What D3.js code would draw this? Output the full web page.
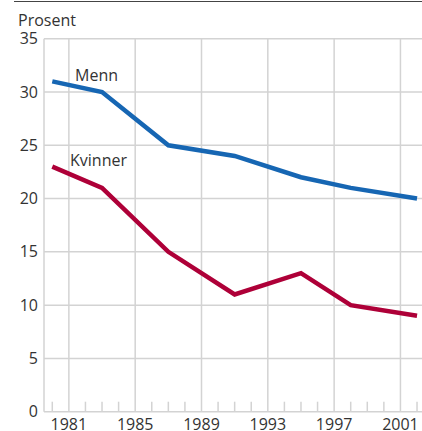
<!doctype html>
<html>
<head>
    <style>
        body { margin: 0; background: #fff; }
        text {
            font-family: 'Open Sans', 'Noto Sans', sans-serif;
            fill: #333;
        }
    </style>
    <script src="https://d3js.org/d3.v7.min.js"></script>
</head>
<body>
    <script>
        /*** Data ***/
        var years   = [1980, 1983, 1987, 1991, 1995, 1998, 2002];
        var menn    = [31, 30, 25, 24, 22, 21, 20];
        var kvinner = [23, 21, 15, 11, 13, 10, 9];
        var yTicks  = [0, 5, 10, 15, 20, 25, 30, 35];
        var xTicks  = [1981, 1985, 1989, 1993, 1997, 2001];

        var svg = d3.select("body").append("svg").attr("width", 422).attr("height", 431);

        var x = d3.scaleLinear().domain([1979.5, 2002.3]).range([44, 422]);
        var y = d3.scaleLinear().domain([0, 35]).range([411.7, 38.7]);

        // top rule
        svg.append("line")
            .attr("x1", 14).attr("x2", 422)
            .attr("y1", 1.5).attr("y2", 1.5)
            .attr("stroke", "#444").attr("stroke-width", 1.2);

        svg.append("text")
            .attr("x", 18).attr("y", 26)
            .style("font-size", "16px")
            .text("Prosent");

        // horizontal grid
        svg.selectAll(".hgrid").data(yTicks.filter(function(d) { return d > 0; }))
            .enter().append("line")
            .attr("x1", x(1979.5)).attr("x2", 422)
            .attr("y1", function(d) { return y(d); })
            .attr("y2", function(d) { return y(d); })
            .attr("stroke", "#d3d3d3").attr("stroke-width", 1.5);

        // vertical grid
        svg.selectAll(".vgrid").data(xTicks)
            .enter().append("line")
            .attr("x1", function(d) { return x(d); })
            .attr("x2", function(d) { return x(d); })
            .attr("y1", y(35)).attr("y2", y(0))
            .attr("stroke", "#d3d3d3").attr("stroke-width", 1.5);

        // minor ticks every year
        var minor = d3.range(1980, 2003).filter(function(d) { return xTicks.indexOf(d) < 0; });
        svg.selectAll(".minor").data(minor)
            .enter().append("line")
            .attr("x1", function(d) { return x(d); })
            .attr("x2", function(d) { return x(d); })
            .attr("y1", y(0) - 10).attr("y2", y(0))
            .attr("stroke", "#d3d3d3").attr("stroke-width", 1.5);

        // axes lines
        svg.append("line")
            .attr("x1", x(1979.5)).attr("x2", x(1979.5))
            .attr("y1", y(35)).attr("y2", y(0))
            .attr("stroke", "#d3d3d3").attr("stroke-width", 1.5);
        svg.append("line")
            .attr("x1", x(1979.5)).attr("x2", 422)
            .attr("y1", y(0)).attr("y2", y(0))
            .attr("stroke", "#d3d3d3").attr("stroke-width", 1.5);

        // y labels
        svg.selectAll(".ylab").data(yTicks)
            .enter().append("text")
            .attr("x", 38)
            .attr("y", function(d) { return y(d); })
            .attr("dy", "0.35em")
            .attr("text-anchor", "end")
            .style("font-size", "16px")
            .text(function(d) { return d; });

        // x labels
        svg.selectAll(".xlab").data(xTicks)
            .enter().append("text")
            .attr("x", function(d) { return x(d); })
            .attr("y", 430)
            .attr("text-anchor", "middle")
            .style("font-size", "16px")
            .text(function(d) { return d; });

        // lines
        var line = d3.line()
            .x(function(d, i) { return x(years[i]); })
            .y(function(d) { return y(d); });

        svg.append("path").datum(kvinner)
            .attr("d", line)
            .attr("fill", "none")
            .attr("stroke", "#ae0038")
            .attr("stroke-width", 4.5);

        svg.append("path").datum(menn)
            .attr("d", line)
            .attr("fill", "none")
            .attr("stroke", "#1666b3")
            .attr("stroke-width", 4.5);

        svg.append("text")
            .attr("x", 75).attr("y", 81)
            .style("font-size", "16px")
            .text("Menn");

        svg.append("text")
            .attr("x", 70).attr("y", 166)
            .style("font-size", "16px")
            .text("Kvinner");
    </script>
</body>
</html>
